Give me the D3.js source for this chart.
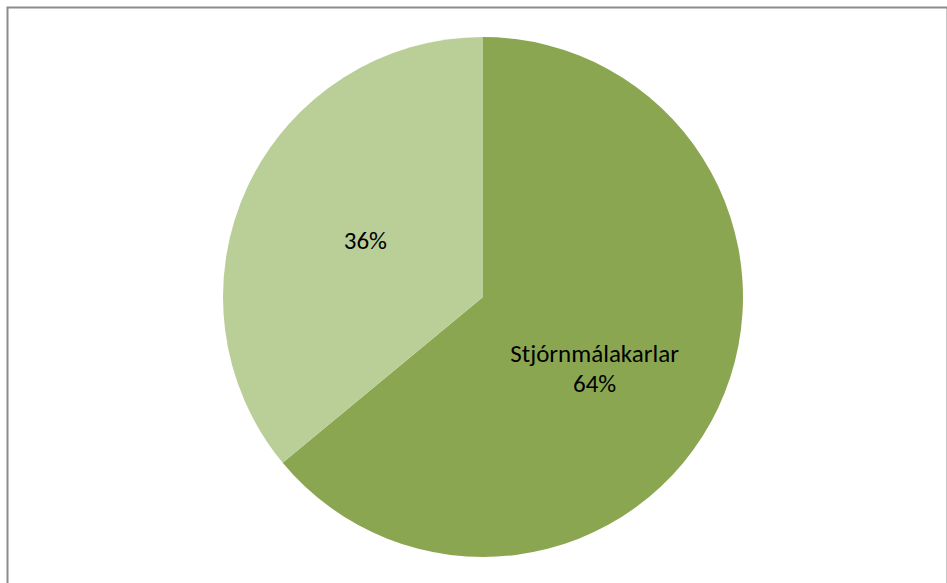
<!DOCTYPE html>
<html>
<head>
<meta charset="utf-8">
<script src="https://cdn.jsdelivr.net/npm/d3@7"></script>
<style>
  body { margin: 0; background: #fff; }
  svg text { font-family: Carlito, Lato, "Liberation Sans", sans-serif; fill: #000; }
</style>
</head>
<body>
<div id="chart"></div>
<script>
var categories = ["Stjórnmálakarlar", ""];
var values = [64, 36];
var labels = ["Stjórnmálakarlar\n64%", "36%"];
var colors = ["#8ba650", "#bacf98"];

var width = 947,
    height = 583;

var svg = d3.select("#chart").append("svg")
    .attr("width", width)
    .attr("height", height);

// chart frame (runs off the right and bottom of the view)
svg.append("rect")
    .attr("x", 7.5)
    .attr("y", 7.5)
    .attr("width", 940)
    .attr("height", 600)
    .attr("fill", "none")
    .attr("stroke", "#8c8c8c")
    .attr("stroke-width", 2);

var cx = 483, cy = 297, radius = 260;

var pie = d3.pie().sort(null).value(function(d){ return d; });
var arc = d3.arc().innerRadius(0).outerRadius(radius);
var labelArc = d3.arc().innerRadius(radius * 0.5).outerRadius(radius * 0.5);

var g = svg.append("g").attr("transform", "translate(" + cx + "," + cy + ")");

var slices = g.selectAll(".slice")
    .data(pie(values))
  .enter().append("g")
    .attr("class", "slice");

slices.append("path")
    .attr("d", arc)
    .attr("fill", function(d, i){ return colors[i]; });

// label offsets relative to arc centroid, tuned to match the original placement
var offsets = [[-6, 18], [0, 0]];

slices.append("text")
    .attr("text-anchor", "middle")
    .attr("font-size", "25px")
    .attr("transform", function(d, i){
      var c = labelArc.centroid(d);
      return "translate(" + (c[0] + offsets[i][0]) + "," + (c[1] + offsets[i][1]) + ")";
    })
    .each(function(d, i){
      var lines = labels[i].split("\n");
      var t = d3.select(this);
      lines.forEach(function(l, j){
        t.append("tspan")
          .attr("x", 0)
          .attr("dy", j == 0 ? (-(lines.length - 1) * 15 + 7) + "px" : "30px")
          .text(l);
      });
    });
</script>
</body>
</html>
